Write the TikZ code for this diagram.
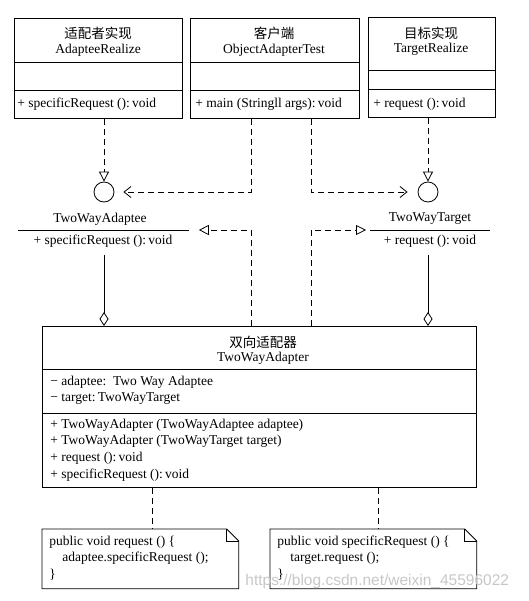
\documentclass[tikz,border=0pt]{standalone}
\usepackage{fontspec}
\setmainfont{Liberation Serif}
\newfontfamily\cjk{Noto Sans CJK SC}
\newfontfamily\wmfont{Liberation Sans}
\usetikzlibrary{arrows.meta,calc}
\begin{document}
\begin{tikzpicture}[x=1pt,y=-1pt,
  line width=0.8pt,
  txt/.style={inner sep=0pt,font=\fontsize{13.5}{16}\selectfont},
  ltxt/.style={txt,anchor=west},
  cjkt/.style={inner sep=0pt,font=\cjk\fontsize{13.5}{16}\selectfont},
  umlbox/.style={draw,rectangle,inner sep=0pt,anchor=north west},
  area/.style={rectangle,inner sep=0pt,anchor=north west},
  dep/.style={dashed,dash pattern=on 6pt off 4pt},
  realize/.style={dep,-{Triangle[open,length=10pt,width=10pt]}},
  use/.style={dep,-{Straight Barb[length=7pt,width=11pt]}},
  agg/.style={-{Diamond[open,length=14pt,width=9pt]}},
  iface/.style={draw,circle,minimum size=20pt,inner sep=0pt}
]
\useasboundingbox (0,0) rectangle (528,601);

% ---- top classes ----
\node[umlbox,minimum width=168pt,minimum height=100pt] (b1) at (14,18) {};
\draw (14,62) -- (182,62) (14,90) -- (182,90);
\node[cjkt] (b1c) at (98,33) {适配者实现};
\node[txt] (b1n) at (98,50) {AdapteeRealize};
\node[ltxt] (b1m) at (17,104) {+ specificRequest ():\,void};

\node[umlbox,minimum width=169pt,minimum height=100pt] (b2) at (190,18) {};
\draw (190,62) -- (359,62) (190,90) -- (359,90);
\node[cjkt] (b2c) at (274,33) {客户端};
\node[txt] (b2n) at (274,50) {ObjectAdapterTest};
\node[ltxt] (b2m) at (195,104) {+ main (Stringll args):\,void};

\node[umlbox,minimum width=127pt,minimum height=100pt] (b3) at (368,17) {};
\draw (368,70) -- (495,70) (368,89) -- (495,89);
\node[cjkt] (b3c) at (431,33) {目标实现};
\node[txt] (b3n) at (431,49) {TargetRealize};
\node[ltxt] (b3m) at (373,104) {+ request ():\,void};

% ---- interfaces ----
\node[iface] (i1) at (104,192) {};
\node[iface] (i2) at (428,192) {};

\node[area,minimum width=170pt,minimum height=22pt] (ia) at (18,230) {};
\draw (ia.north west) -- (ia.north east);
\node[txt] (ian) at (100,219) {TwoWayAdaptee};
\node[txt] (iam) at (103,241) {+ specificRequest ():\,void};

\node[area,minimum width=119pt,minimum height=22pt] (ib) at (370,230) {};
\draw (ib.north west) -- (ib.north east);
\node[txt] (ibn) at (430,219) {TwoWayTarget};
\node[txt] (ibm) at (430,241) {+ request ():\,void};

% ---- adapter ----
\node[umlbox,minimum width=434pt,minimum height=161pt] (ad) at (42,326) {};
\draw (42,369) -- (476,369) (42,413) -- (476,413);
\node[cjkt] (adc) at (263,342) {双向适配器};
\node[txt] (adn) at (263,358) {TwoWayAdapter};
\node[ltxt] (ada1) at (50,382) {\textminus\ adaptee:\ \ Two Way Adaptee};
\node[ltxt] (ada2) at (50,399) {\textminus\ target:\,TwoWayTarget};
\node[ltxt] (adm1) at (50,425) {+ TwoWayAdapter (TwoWayAdaptee adaptee)};
\node[ltxt] (adm2) at (50,441) {+ TwoWayAdapter (TwoWayTarget target)};
\node[ltxt] (adm3) at (50,458) {+ request ():\,void};
\node[ltxt] (adm4) at (50,475) {+ specificRequest ():\,void};

% ---- notes ----
\node[area,minimum width=196pt,minimum height=59pt] (n1) at (42,529) {};
\draw (n1.north west) -- ($(n1.north east)+(-12,0)$) -- ($(n1.north east)+(0,12)$) -- (n1.south east) -- (n1.south west) -- cycle;
\draw ($(n1.north east)+(-12,0)$) -- ($(n1.north east)+(-12,12)$) -- ($(n1.north east)+(0,12)$);
\node[ltxt] (n1a) at (49,542) {public void request () \{};
\node[ltxt] (n1b) at (62,558) {adaptee.specificRequest ();};
\node[ltxt] (n1c) at (49,575) {\}};

\node[area,minimum width=206pt,minimum height=59pt] (n2) at (270,529) {};
\draw (n2.north west) -- ($(n2.north east)+(-12,0)$) -- ($(n2.north east)+(0,12)$) -- (n2.south east) -- (n2.south west) -- cycle;
\draw ($(n2.north east)+(-12,0)$) -- ($(n2.north east)+(-12,12)$) -- ($(n2.north east)+(0,12)$);
\node[ltxt] (n2a) at (277,542) {public void specificRequest () \{};
\node[ltxt] (n2b) at (290,558) {target.request ();};
\node[ltxt] (n2c) at (277,575) {\}};

% ---- connectors ----
\coordinate (xl) at (251,0);
\coordinate (xr) at (311,0);
\coordinate (xn1) at (152,0);
\coordinate (xn2) at (378,0);

\draw[realize] (b1.south -| i1) -- (i1.north);
\draw[realize] (b3.south -| i2) -- (i2.north);
\draw[use,shorten >=9pt] (b2.south -| xl) -- (xl |- i1) -- (i1.east);
\draw[use,shorten >=10pt] (b2.south -| xr) -- (xr |- i2) -- (i2.west);

\draw[realize,shorten >=10pt] (ad.north -| xl) -- (xl |- ia.north) -- (ia.north east);
\draw[realize,shorten >=4pt] (ad.north -| xr) -- (xr |- ib.north) -- (ib.north west);

\draw[agg] ($(ia.south -| i1)+(0,2)$) -- (ad.north -| i1);
\draw[agg] ($(ib.south -| i2)+(0,2)$) -- (ad.north -| i2);

\draw[dep] (ad.south -| xn1) -- (n1.north -| xn1);
\draw[dep] (ad.south -| xn2) -- (n2.north -| xn2);

% watermark
\node[inner sep=0pt,anchor=west,text=black!22,font=\wmfont\fontsize{15.5}{17}\selectfont] (wm) at (245,581) {https://blog.csdn.net/weixin\_45596022};
\end{tikzpicture}
\end{document}
